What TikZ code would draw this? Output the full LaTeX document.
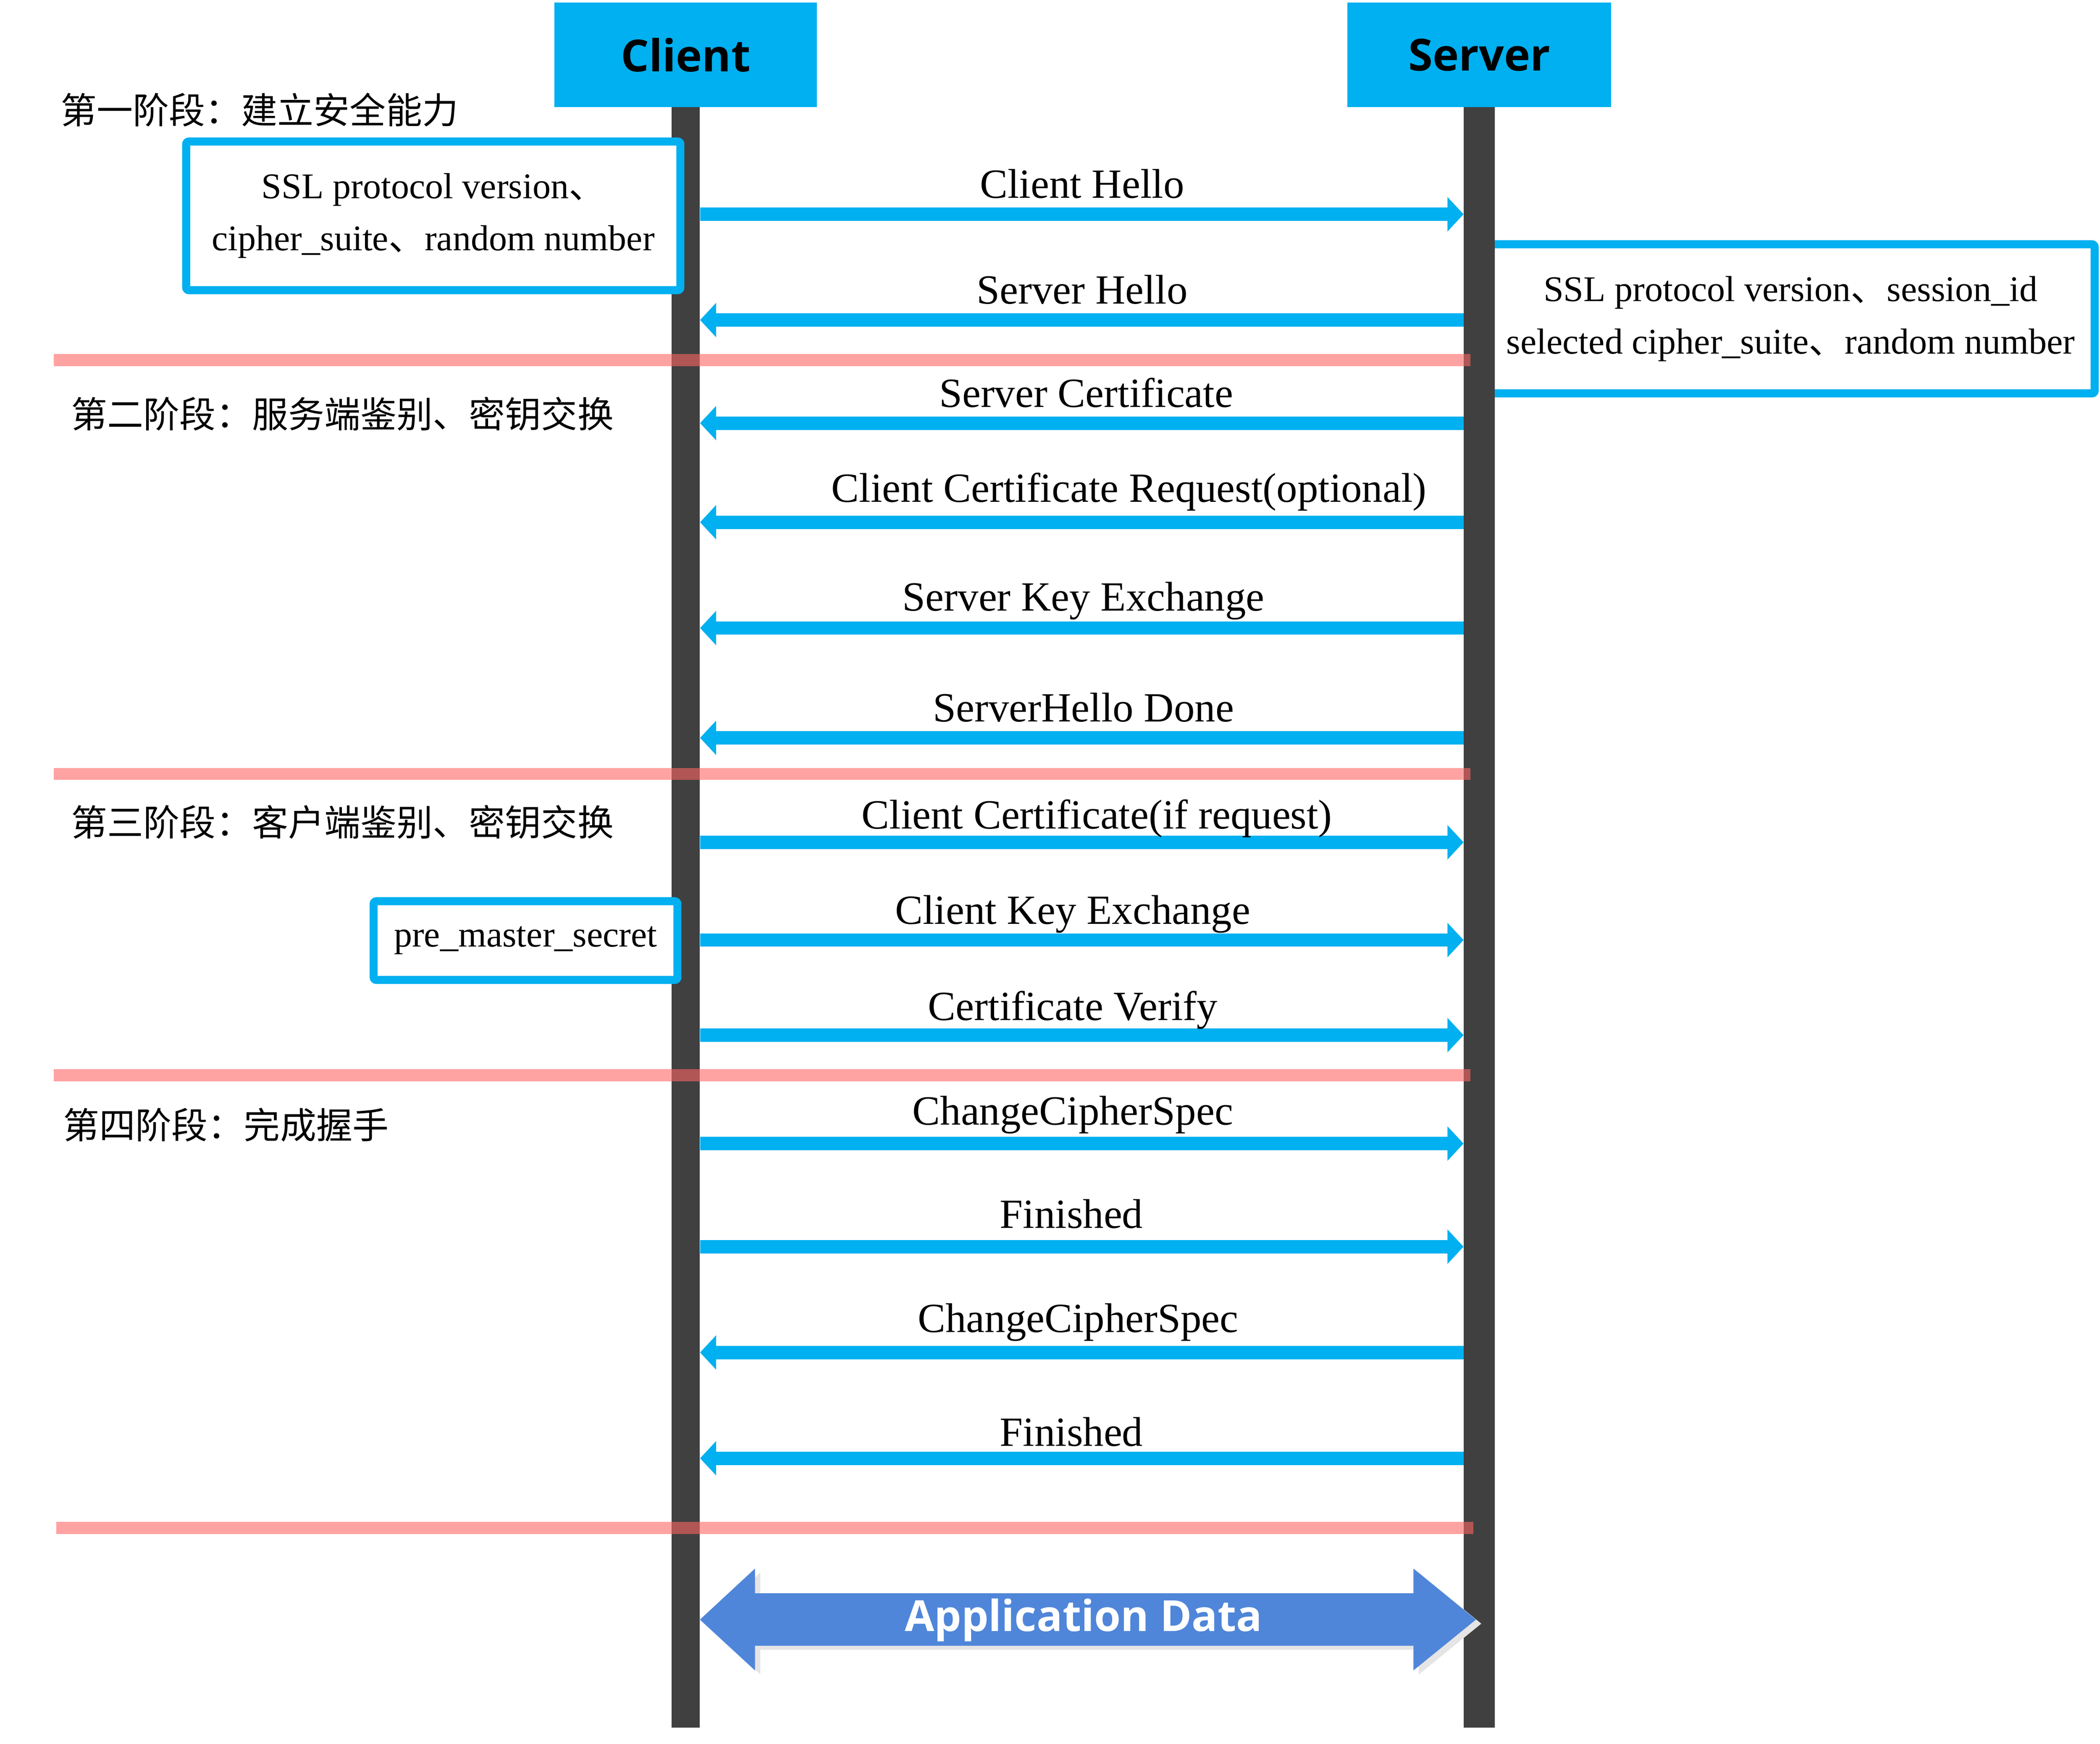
\documentclass[tikz,border=0pt]{standalone}
\usepackage{fontspec}
\setmainfont{Liberation Serif}
\newfontfamily\cjk{Noto Sans CJK SC}
\newfontfamily\headfont{Open Sans}
\usetikzlibrary{arrows.meta}
\definecolor{skyblue}{RGB}{0,176,240}
\definecolor{lifegray}{RGB}{64,64,64}
\definecolor{stagered}{RGB}{255,100,100}
\definecolor{appblue}{RGB}{79,134,217}
\definecolor{shadowgray}{RGB}{229,229,229}
\begin{document}
\begin{tikzpicture}[x=1pt,y=-1pt,
  head/.style={fill=skyblue,minimum width=196pt,minimum height=78pt,inner sep=0pt,font=\headfont\bfseries\fontsize{33}{40}\selectfont},
  life/.style={fill=lifegray,minimum height=1210pt,inner sep=0pt},
  infobox/.style={draw=skyblue,line width=6pt,fill=white,align=center,inner sep=0pt,rounded corners=2pt,font=\fontsize{27}{39}\selectfont},
  stage/.style={anchor=west,inner sep=0pt,font=\cjk\fontsize{27}{32}\selectfont},
  sep/.style={draw=stagered,draw opacity=0.6,line width=9pt},
  msg/.style={draw=skyblue,line width=10pt,-{Triangle[length=12pt,width=25pt]}},
  msglabel/.style={anchor=base,inner sep=0pt,font=\fontsize{31}{37}\selectfont}]
\useasboundingbox (0,0) rectangle (1568,1302.3);
\node[infobox,minimum width=454pt,minimum height=111.3pt] (srvinfo) at (1337,238.1) {SSL protocol version{\cjk 、}session\_id\\selected cipher\_suite{\cjk 、}random number};
\node[life,minimum width=21pt] (cl) at (512,685) {};
\node[life,minimum width=23pt] (sl) at (1104.5,685) {};
\node[head] (client) at (512,41) {Client};
\node[head,minimum width=197pt] (server) at (1104.5,41) {Server};
\node[infobox,minimum width=369pt,minimum height=111pt] (cltinfo) at (323.5,161.2) {SSL protocol version{\cjk 、}\\cipher\_suite{\cjk 、}random number};
\node[infobox,minimum width=226.8pt,minimum height=58.8pt] (premaster) at (392.4,702.4) {pre\_master\_secret};
\node[stage] (stage1) at (45,82) {第一阶段：建立安全能力};
\node[stage] (stage2) at (53,309) {第二阶段：服务端鉴别、密钥交换};
\node[stage] (stage3) at (53,614) {第三阶段：客户端鉴别、密钥交换};
\node[stage] (stage4) at (47,840) {第四阶段：完成握手};
\draw[sep] (40,269) -- (1098,269);
\draw[sep] (40,578) -- (1098,578);
\draw[sep] (40,803) -- (1098,803);
\draw[sep] (42,1141) -- (1100,1141);
\draw[msg] (cl.east |- 0,160) -- (sl.west |- 0,160);
\node[msglabel] (m1) at (808,148) {Client Hello};
\draw[msg] (sl.west |- 0,239) -- (cl.east |- 0,239);
\node[msglabel] (m2) at (808,227) {Server Hello};
\draw[msg] (sl.west |- 0,316) -- (cl.east |- 0,316);
\node[msglabel] (m3) at (811,304) {Server Certificate};
\draw[msg] (sl.west |- 0,390) -- (cl.east |- 0,390);
\node[msglabel] (m4) at (843,375) {Client Certificate Request(optional)};
\draw[msg] (sl.west |- 0,469) -- (cl.east |- 0,469);
\node[msglabel] (m5) at (809,456) {Server Key Exchange};
\draw[msg] (sl.west |- 0,551) -- (cl.east |- 0,551);
\node[msglabel] (m6) at (809,539) {ServerHello Done};
\draw[msg] (cl.east |- 0,629) -- (sl.west |- 0,629);
\node[msglabel] (m7) at (819,619) {Client Certificate(if request)};
\draw[msg] (cl.east |- 0,702) -- (sl.west |- 0,702);
\node[msglabel] (m8) at (801,690) {Client Key Exchange};
\draw[msg] (cl.east |- 0,773) -- (sl.west |- 0,773);
\node[msglabel] (m9) at (801,762) {Certificate Verify};
\draw[msg] (cl.east |- 0,854) -- (sl.west |- 0,854);
\node[msglabel] (m10) at (801,840) {ChangeCipherSpec};
\draw[msg] (cl.east |- 0,931) -- (sl.west |- 0,931);
\node[msglabel] (m11) at (800,917) {Finished};
\draw[msg] (sl.west |- 0,1010) -- (cl.east |- 0,1010);
\node[msglabel] (m12) at (805,995) {ChangeCipherSpec};
\draw[msg] (sl.west |- 0,1089) -- (cl.east |- 0,1089);
\node[msglabel] (m13) at (800,1080) {Finished};
\fill[shadowgray,shift={(4,3)}] (522.6,1209.5) -- (563.7,1171.4) -- (563.7,1189.8) -- (1055.4,1189.8) -- (1055.4,1171.4) -- (1102,1209.5) -- (1055.4,1247.4) -- (1055.4,1229) -- (563.7,1229) -- (563.7,1247.4) -- cycle;
\fill[appblue] (522.6,1209.5) -- (563.7,1171.4) -- (563.7,1189.8) -- (1055.4,1189.8) -- (1055.4,1171.4) -- (1102,1209.5) -- (1055.4,1247.4) -- (1055.4,1229) -- (563.7,1229) -- (563.7,1247.4) -- cycle;
\node[text=white,font=\headfont\bfseries\fontsize{32}{38}\selectfont] (appdata) at (809,1210) {Application Data};
\end{tikzpicture}
\end{document}
